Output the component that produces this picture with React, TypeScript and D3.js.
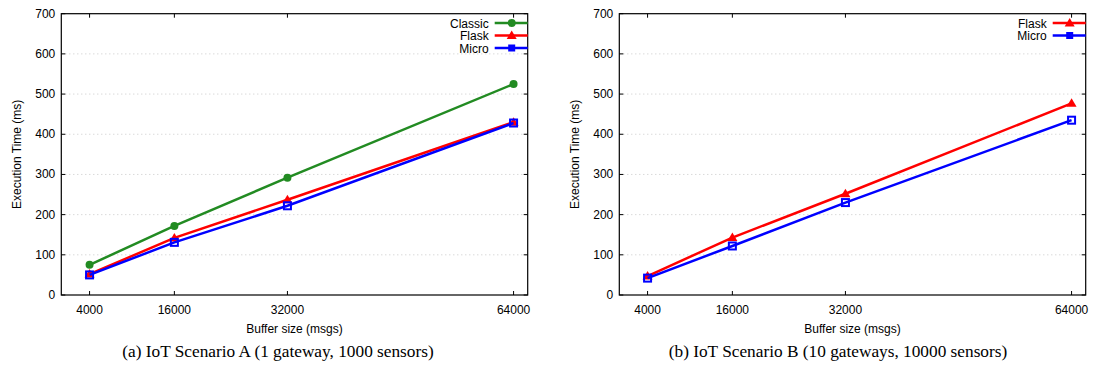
import * as d3 from "d3";

const bufferSizes = [4000, 16000, 32000, 64000];
const yTicks = [0, 100, 200, 300, 400, 500, 600, 700];

const classicA = [75, 172, 292, 525];
const flaskA = [52, 142, 237, 430];
const microA = [50, 131, 222, 428];

const flaskB = [47, 143, 252, 477];
const microB = [42, 122, 230, 435];

const captionA = "(a) IoT Scenario A (1 gateway, 1000 sensors)";
const captionB = "(b) IoT Scenario B (10 gateways, 10000 sensors)";

type Marker = "circle" | "triangle" | "square";

interface Series {
  name: string;
  values: number[];
  color: string;
  marker: Marker;
}

const SANS = "'Liberation Sans', Arial, Helvetica, sans-serif";
const SERIF = "'Liberation Serif', 'Times New Roman', serif";

function MarkerShape({ type, x, y, color, legend }: { type: Marker; x: number; y: number; color: string; legend?: boolean }) {
  if (type === "circle") return <circle cx={x} cy={y} r={4} fill={color} />;
  if (type === "triangle") {
    const s = 5;
    return <path d={`M${x},${y - s}L${x + s},${y + s * 0.7}L${x - s},${y + s * 0.7}Z`} fill={color} />;
  }
  const h = 3.5;
  return legend ? (
    <rect x={x - h} y={y - h} width={h * 2} height={h * 2} fill={color} />
  ) : (
    <rect x={x - h} y={y - h} width={h * 2} height={h * 2} fill="none" stroke={color} strokeWidth={2} />
  );
}

function Panel({ left, series, caption, captionX }: { left: number; series: Series[]; caption: string; captionX: number }) {
  const x = d3.scaleLinear().domain([0, 66000]).range([left, left + 466.4]);
  const y = d3.scaleLinear().domain([0, 700]).range([295, 13.7]);
  const [x0, x1] = x.range();
  const [y0, y1] = y.range();
  const line = d3
    .line<number>()
    .x((_, i) => x(bufferSizes[i]))
    .y((d) => y(d));

  return (
    <g fontFamily={SANS}>
      {yTicks.slice(1, -1).map((t) => (
        <line key={"g" + t} x1={x0} x2={x1} y1={y(t)} y2={y(t)} stroke="#bbb" strokeWidth={0.8} strokeDasharray="1,3" />
      ))}
      <rect x={x0} y={y1} width={x1 - x0} height={y0 - y1} fill="none" stroke="#000" strokeWidth={1.2} />
      {yTicks.map((t) => (
        <g key={"y" + t}>
          <line x1={x0} x2={x0 + 4} y1={y(t)} y2={y(t)} stroke="#000" />
          <line x1={x1} x2={x1 - 4} y1={y(t)} y2={y(t)} stroke="#000" />
          <text x={x0 - 6} y={y(t) + 4} textAnchor="end" fontSize={12}>
            {t}
          </text>
        </g>
      ))}
      {bufferSizes.map((b) => (
        <g key={"x" + b}>
          <line x1={x(b)} x2={x(b)} y1={y0} y2={y0 - 4} stroke="#000" />
          <line x1={x(b)} x2={x(b)} y1={y1} y2={y1 + 4} stroke="#000" />
          <text x={x(b)} y={y0 + 19} textAnchor="middle" fontSize={12}>
            {b}
          </text>
        </g>
      ))}
      <text x={(x0 + x1) / 2} y={333} textAnchor="middle" fontSize={12}>
        Buffer size (msgs)
      </text>
      <text transform={`translate(${x0 - 40},${(y0 + y1) / 2}) rotate(-90)`} textAnchor="middle" fontSize={12}>
        Execution Time (ms)
      </text>
      {series.map((s) => (
        <g key={s.name}>
          <path d={line(s.values) ?? ""} fill="none" stroke={s.color} strokeWidth={2.5} />
          {s.values.map((v, i) => (
            <MarkerShape key={i} type={s.marker} x={x(bufferSizes[i])} y={y(v)} color={s.color} />
          ))}
        </g>
      ))}
      {series.map((s, i) => {
        const ly = 23 + i * 12.5;
        return (
          <g key={"l" + s.name}>
            <text x={x1 - 39} y={ly + 4.5} textAnchor="end" fontSize={12}>
              {s.name}
            </text>
            <line x1={x1 - 33} x2={x1} y1={ly} y2={ly} stroke={s.color} strokeWidth={2.5} />
            <MarkerShape type={s.marker} x={x1 - 16} y={ly} color={s.color} legend />
          </g>
        );
      })}
      <text x={captionX} y={357} textAnchor="middle" fontSize={17.3} fontFamily={SERIF}>
        {caption}
      </text>
    </g>
  );
}

export default function App() {
  const seriesA: Series[] = [
    { name: "Classic", values: classicA, color: "#228b22", marker: "circle" },
    { name: "Flask", values: flaskA, color: "#ff0000", marker: "triangle" },
    { name: "Micro", values: microA, color: "#0000ff", marker: "square" },
  ];
  const seriesB: Series[] = [
    { name: "Flask", values: flaskB, color: "#ff0000", marker: "triangle" },
    { name: "Micro", values: microB, color: "#0000ff", marker: "square" },
  ];
  return (
    <svg width={1095} height={365} style={{ position: "absolute", left: 0, top: 0, background: "#fff" }}>
      <Panel left={61.3} series={seriesA} caption={captionA} captionX={278} />
      <Panel left={619.3} series={seriesB} caption={captionB} captionX={838} />
    </svg>
  );
}
